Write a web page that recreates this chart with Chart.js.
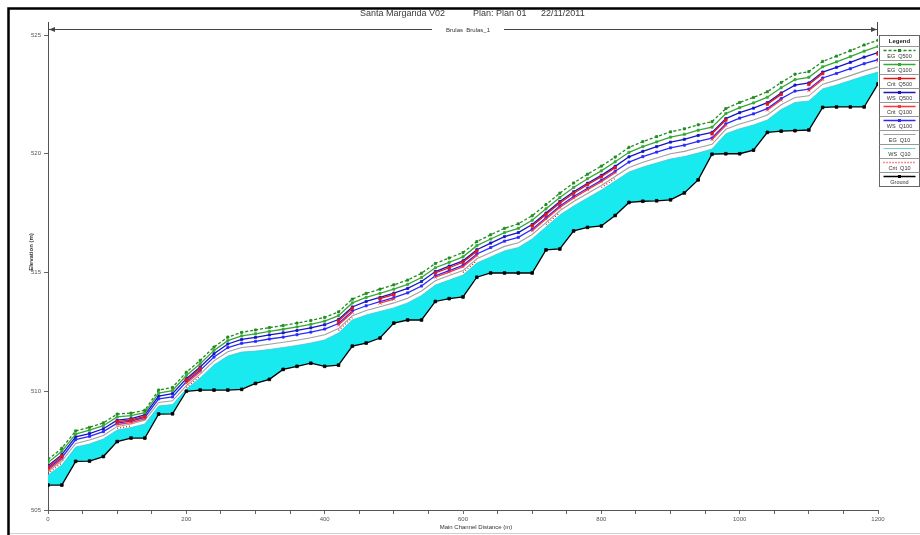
<!DOCTYPE html>
<html>
<head>
<meta charset="utf-8">
<title>Santa Margarida V02 - profile</title>
<script src="https://cdn.jsdelivr.net/npm/chart.js@4/dist/chart.umd.min.js"></script>
<style>
  body { margin: 0; background: #fff; }
  #wrap { width: 920px; height: 535px; position: relative; }
</style>
</head>
<body>
<div id="wrap"><canvas id="profile"></canvas></div>
<script>
// main channel distance (m) of each section
const stations = [0,20,40,60,80,100,120,140,160,180,200,220,240,260,280,300,320,340,360,380,400,420,440,460,480,500,520,540,560,580,600,620,640,660,680,700,720,740,760,780,800,820,840,860,880,900,920,940,960,980,1000,1020,1040,1060,1080,1100,1120,1140,1160,1180,1200];

const ground = [506.05,506.05,507.05,507.06,507.25,507.88,508.03,508.03,509.04,509.05,510.0,
  510.05,510.05,510.05,510.08,510.33,510.5,510.92,511.05,511.18,511.05,
  511.1,511.9,512.03,512.24,512.87,513.0,513.0,513.78,513.9,513.97,
  514.8,514.98,514.98,514.98,514.98,515.95,515.99,516.75,516.9,516.96,
  517.4,517.95,518.0,518.02,518.06,518.35,518.9,519.98,520.0,520.0,
  520.15,520.9,520.95,520.97,521.0,521.95,521.97,521.97,521.97,522.94];

const wsQ10 = [506.47,506.89,507.65,507.78,507.99,508.37,508.47,508.62,509.38,509.44,510.09,
  510.56,511.11,511.48,511.65,511.69,511.76,511.84,511.93,512.03,512.16,
  512.45,513.0,513.21,513.36,513.51,513.72,514.03,514.47,514.68,514.89,
  515.4,515.65,515.91,516.05,516.41,516.92,517.42,517.8,518.14,518.47,
  518.85,519.23,519.44,519.61,519.78,519.88,520.03,520.2,520.84,521.05,
  521.21,521.42,521.86,522.16,522.22,522.73,522.89,523.08,523.27,523.44];

const egQ10 = [506.62,507.06,507.8,507.95,508.14,508.52,508.62,508.78,509.53,509.6,510.24,
  510.72,511.28,511.66,511.84,511.9,511.98,512.06,512.15,512.25,512.38,
  512.64,513.18,513.4,513.56,513.72,513.92,514.22,514.65,514.87,515.08,
  515.58,515.84,516.1,516.25,516.6,517.1,517.6,517.99,518.33,518.66,
  519.04,519.42,519.64,519.82,520.0,520.1,520.25,520.4,521.03,521.25,
  521.42,521.63,522.06,522.37,522.44,522.93,523.1,523.29,523.49,523.66];

const wsQ100 = [506.74,507.2,507.96,508.1,508.3,508.66,508.74,508.9,509.68,509.76,510.4,
  510.88,511.44,511.84,512.02,512.1,512.2,512.28,512.38,512.49,512.62,
  512.85,513.38,513.6,513.77,513.94,514.14,514.43,514.86,515.08,515.3,
  515.78,516.05,516.32,516.48,516.82,517.31,517.8,518.2,518.55,518.88,
  519.26,519.65,519.88,520.07,520.25,520.36,520.52,520.66,521.26,521.5,
  521.68,521.9,522.32,522.64,522.72,523.19,523.38,523.58,523.79,523.96];

const wsQ500 = [506.86,507.33,508.08,508.22,508.42,508.78,508.85,509.0,509.8,509.9,510.53,
  511.02,511.58,511.99,512.18,512.27,512.37,512.46,512.56,512.67,512.8,
  513.02,513.55,513.78,513.95,514.13,514.33,514.62,515.04,515.27,515.49,
  515.96,516.24,516.51,516.68,517.02,517.5,517.99,518.4,518.76,519.09,
  519.47,519.87,520.1,520.3,520.49,520.61,520.77,520.9,521.48,521.73,
  521.92,522.15,522.56,522.89,522.98,523.44,523.64,523.85,524.07,524.26];

const egQ100 = [507.0,507.47,508.2,508.36,508.55,508.92,508.97,509.1,509.92,510.03,510.66,
  511.16,511.72,512.13,512.33,512.42,512.52,512.61,512.71,512.82,512.95,
  513.18,513.72,513.95,514.12,514.3,514.5,514.79,515.2,515.43,515.66,
  516.13,516.41,516.68,516.86,517.2,517.68,518.16,518.58,518.95,519.28,
  519.66,520.06,520.3,520.5,520.7,520.82,520.99,521.12,521.69,521.94,
  522.14,522.38,522.78,523.12,523.22,523.66,523.87,524.09,524.32,524.52];

const egQ500 = [507.13,507.6,508.33,508.48,508.67,509.04,509.08,509.2,510.05,510.16,510.8,
  511.3,511.86,512.28,512.48,512.58,512.68,512.77,512.87,512.98,513.11,
  513.34,513.88,514.12,514.3,514.48,514.68,514.97,515.38,515.61,515.84,
  516.3,516.59,516.86,517.05,517.39,517.86,518.34,518.77,519.14,519.48,
  519.86,520.27,520.51,520.72,520.92,521.05,521.22,521.35,521.9,522.16,
  522.37,522.61,523.0,523.35,523.46,523.89,524.11,524.34,524.58,524.78];

// critical depth only computed at some sections
const critQ500 = [506.8,507.27,null,null,null,508.72,508.79,508.94,null,null,510.47,
  510.96,null,null,null,null,null,null,null,null,null,
  512.96,513.49,null,513.9,514.07,null,null,514.98,515.2,515.43,
  515.9,null,null,null,516.96,517.44,517.93,518.34,518.7,519.03,
  519.41,null,null,null,null,null,null,520.84,521.42,null,
  null,522.09,522.5,null,522.92,523.38,null,null,null,524.2];

const critQ100 = [506.68,507.14,null,null,null,508.6,508.68,508.84,null,null,510.34,
  510.82,null,null,null,null,null,null,null,null,null,
  512.79,513.32,null,513.71,513.88,null,null,514.8,515.02,515.24,
  515.72,null,null,null,516.76,517.25,517.74,518.14,518.49,518.82,
  519.2,null,null,null,null,null,null,520.6,521.2,null,
  null,521.84,522.26,null,522.66,523.13,null,null,null,523.9];

const critQ10 = [506.54,506.98,null,null,null,508.44,508.54,null,null,null,510.16,
  510.64,null,null,null,null,null,null,null,null,null,
  512.56,513.1,null,null,null,null,null,null,null,515.0,
  515.5,null,null,null,null,517.02,517.52,null,null,518.58,
  518.96,null,null,null,null,null,null,null,520.95,null,
  null,null,null,null,null,522.85,null,null,null,523.58];

const xTicks = [0, 200, 400, 600, 800, 1000, 1200];

const pts = arr => stations.map((s, i) => ({ x: s, y: arr[i] }));

const line = (label, arr, color, extra) => Object.assign({
  label: label,
  data: pts(arr),
  borderColor: color,
  backgroundColor: color,
  borderWidth: 1.3,
  pointRadius: 1.5,
  pointStyle: 'rect',
  pointBorderWidth: 0.8,
  fill: false,
  tension: 0
}, extra || {});

const datasets = [
  line('EG  Q500', egQ500, '#1e8c1e', { borderDash: [3, 2] }),
  line('EG  Q100', egQ100, '#36a836'),
  line('Crit  Q500', critQ500, '#e01818', { pointRadius: 1.8 }),
  line('WS  Q500', wsQ500, '#1414c8'),
  line('Crit  Q100', critQ100, '#ff3434', { pointStyle: 'crossRot', pointRadius: 2.2 }),
  line('WS  Q100', wsQ100, '#2a2aff'),
  line('EG  Q10', egQ10, '#a0a0a0', { pointRadius: 0, borderWidth: 1.1 }),
  line('WS  Q10', wsQ10, '#48c4d4', { pointRadius: 0, borderWidth: 0.8, fill: 9, backgroundColor: '#18eaf0' }),
  line('Crit  Q10', critQ10, '#e02020', { pointRadius: 0, borderDash: [1, 2] }),
  line('Ground', ground, '#000000', { pointRadius: 1.9, borderWidth: 1.3, order: -1 })
];

const decor = {
  id: 'decor',
  afterDraw(chart) {
    const c = chart.ctx;
    const a = chart.chartArea;
    c.save();

    // window frame
    c.strokeStyle = '#000';
    c.lineWidth = 2.5;
    c.beginPath();
    c.moveTo(8.5, 535); c.lineTo(8.5, 8.5); c.lineTo(920, 8.5);
    c.stroke();
    c.strokeStyle = '#cfcfcf';
    c.lineWidth = 1;
    c.beginPath();
    c.moveTo(10, 533.5); c.lineTo(920, 533.5);
    c.stroke();

    // title
    c.fillStyle = '#3a3a3a';
    c.font = '9px "Liberation Sans", Arial, sans-serif';
    c.textAlign = 'left';
    c.textBaseline = 'middle';
    c.fillText('Santa Margarida V02', 360, 14);
    c.fillText('Plan: Plan 01', 473, 14);
    c.fillText('22/11/2011', 541, 14);

    // reach line
    const ry = 29.5;
    c.strokeStyle = '#444';
    c.lineWidth = 1;
    c.beginPath();
    c.moveTo(a.left, ry); c.lineTo(432, ry);
    c.moveTo(504, ry); c.lineTo(a.right, ry);
    c.moveTo(a.left + 0.5, 22); c.lineTo(a.left + 0.5, 36);
    c.moveTo(a.right - 0.5, 22); c.lineTo(a.right - 0.5, 36);
    c.stroke();
    c.fillStyle = '#444';
    c.beginPath();
    c.moveTo(a.left + 1, ry); c.lineTo(a.left + 7, ry - 2.5); c.lineTo(a.left + 7, ry + 2.5);
    c.closePath(); c.fill();
    c.beginPath();
    c.moveTo(a.right - 1, ry); c.lineTo(a.right - 7, ry - 2.5); c.lineTo(a.right - 7, ry + 2.5);
    c.closePath(); c.fill();
    c.font = '6px "Liberation Sans", Arial, sans-serif';
    c.textAlign = 'center';
    c.fillStyle = '#333';
    c.fillText('Brulas  Brulas_1', 468, ry + 1);

    // axis titles
    c.fillText('Main Channel Distance (m)', 476, 527);
    c.save();
    c.translate(31, 252);
    c.rotate(-Math.PI / 2);
    c.font = 'bold 6px "Liberation Sans", Arial, sans-serif';
    c.fillText('Elevation (m)', 0, 0);
    c.restore();

    // legend box
    const lx = 879.5, lw = 40, top = 35.5, head = 11, rh = 14;
    const n = chart.data.datasets.length;
    c.fillStyle = '#fff';
    c.fillRect(lx, top, lw, head + rh * n);
    c.strokeStyle = '#666';
    c.lineWidth = 1;
    c.strokeRect(lx, top, lw, head + rh * n);
    c.fillStyle = '#222';
    c.font = 'bold 6px "Liberation Sans", Arial, sans-serif';
    c.fillText('Legend', lx + lw / 2, top + 5.5);
    c.font = '5.5px "Liberation Sans", Arial, sans-serif';
    chart.data.datasets.forEach((ds, i) => {
      const y0 = top + head + rh * i;
      c.strokeStyle = '#999';
      c.lineWidth = 1;
      c.setLineDash([]);
      c.beginPath(); c.moveTo(lx, y0); c.lineTo(lx + lw, y0); c.stroke();
      const sy = y0 + 4;
      c.strokeStyle = ds.borderColor;
      c.lineWidth = ds.borderWidth;
      c.setLineDash(ds.borderDash || []);
      c.beginPath(); c.moveTo(lx + 4, sy); c.lineTo(lx + lw - 4, sy); c.stroke();
      c.setLineDash([]);
      if (ds.pointRadius > 0) {
        c.fillStyle = ds.borderColor;
        c.fillRect(lx + lw / 2 - 1.5, sy - 1.5, 3, 3);
      }
      c.fillStyle = '#333';
      c.fillText(ds.label, lx + lw / 2, y0 + 10);
    });
    c.restore();
  }
};

new Chart(document.getElementById('profile'), {
  type: 'line',
  data: { datasets: datasets },
  options: {
    responsive: true,
    maintainAspectRatio: false,
    animation: false,
    layout: { padding: { left: 0, top: 35, right: 42, bottom: 0 } },
    plugins: {
      legend: { display: false },
      title: { display: false },
      tooltip: { enabled: false }
    },
    scales: {
      x: {
        type: 'linear',
        min: 0,
        max: 1200,
        afterFit: s => { s.height = 25; },
        afterBuildTicks: s => {
          const t = [];
          for (let v = 0; v <= 1200; v += 50) t.push({ value: v });
          s.ticks = t;
        },
        grid: { display: true, drawOnChartArea: false, drawTicks: true, tickLength: 4, color: '#666' },
        border: { display: true, color: '#555' },
        ticks: {
          autoSkip: false,
          maxRotation: 0,
          padding: 2,
          color: '#555',
          font: { size: 6, family: '"Liberation Sans", Arial, sans-serif' },
          callback: v => xTicks.includes(v) ? String(v) : ''
        }
      },
      y: {
        min: 505,
        max: 525,
        afterFit: s => { s.width = 48; },
        grid: { display: true, drawOnChartArea: false, drawTicks: true, tickLength: 4, color: '#666' },
        border: { display: true, color: '#555' },
        ticks: {
          stepSize: 5,
          padding: 3,
          color: '#555',
          font: { size: 6, family: '"Liberation Sans", Arial, sans-serif' }
        }
      }
    }
  },
  plugins: [decor]
});
</script>
</body>
</html>
